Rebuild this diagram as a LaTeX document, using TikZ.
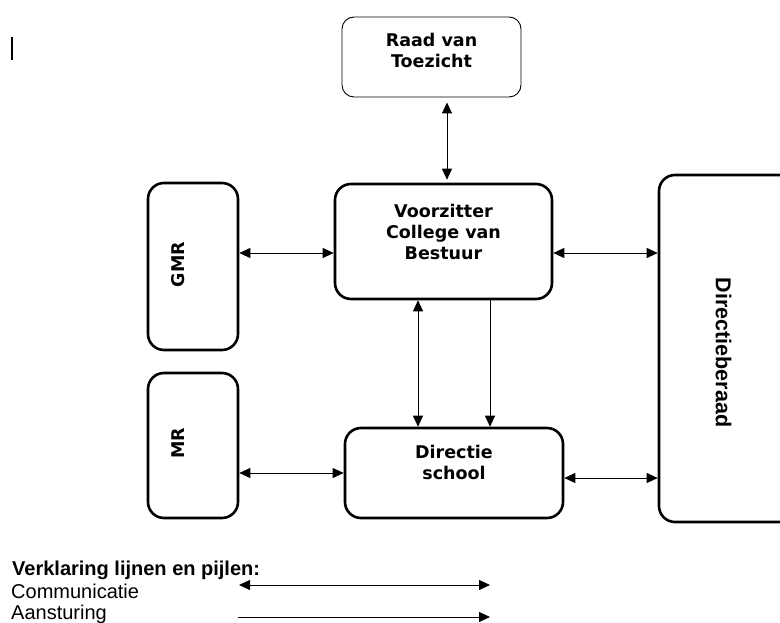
\documentclass[tikz,border=0pt]{standalone}
\usepackage{fontspec}
\setmainfont{Liberation Sans}
\newfontfamily\boxfont{DejaVu Sans}
\usetikzlibrary{arrows.meta}
\tikzset{
	orgbox/.style={draw, line width=2.6pt, rounded corners=16pt, inner sep=0pt},
	thinbox/.style={draw, line width=0.9pt, rounded corners=12pt, inner sep=0pt},
	boxlabel/.style={font=\boxfont\bfseries\fontsize{17.5}{21}\selectfont, align=center, inner sep=0pt},
	sidelabel/.style={font=\bfseries\fontsize{21.5}{24}\selectfont, inner sep=0pt},
	keylabel/.style={font=\fontsize{20}{23}\selectfont, anchor=base west, inner sep=0pt},
	comm/.style={line width=0.9pt, {Triangle[length=11pt,width=10pt]}-{Triangle[length=11pt,width=10pt]}},
	steer/.style={line width=0.9pt, -{Triangle[length=11pt,width=10pt]}},
}

\begin{document}
\begin{tikzpicture}[x=1pt, y=-1pt]
	\useasboundingbox (0, 0) rectangle (780, 623);
	% cursor mark
	\draw[line width=1.1pt] (12, 37) -- (12, 60);
	% box sizes
	\pgfmathsetmacro\bw{217}
	\pgfmathsetmacro\sw{90}
	% supervisory board
	\node[thinbox, minimum width=179pt, minimum height=80pt] (rvt) at (431.5, 57) {};
	\node[boxlabel] (rvt-label) at ([yshift=7pt]rvt.center) {Raad van\\Toezicht};
	% chair
	\node[orgbox, minimum width=\bw pt, minimum height=115pt] (vcb) at (443.5, 241.5) {};
	\node[boxlabel] (vcb-label) at ([yshift=9.5pt]vcb.center) {Voorzitter\\College van\\Bestuur};
	% school management
	\node[orgbox, minimum width=218pt, minimum height=90pt] (ds) at (454, 473) {};
	\node[boxlabel] (ds-label) at ([yshift=11pt]ds.center) {Directie\\school};
	% councils
	\node[orgbox, minimum width=\sw pt, minimum height=167pt] (gmr) at (193, 266.5) {};
	\node[boxlabel, rotate=90] (gmr-label) at ([xshift=-15pt, yshift=2pt]gmr.center) {GMR};
	\node[orgbox, minimum width=\sw pt, minimum height=145pt] (mr) at (193, 445.5) {};
	\node[boxlabel, rotate=90] (mr-label) at ([xshift=-14.5pt, yshift=2.5pt]mr.center) {MR};
	% directors board
	\node[orgbox, minimum width=140pt, minimum height=347pt] (dbr) at (729, 348.5) {};
	\node[sidelabel, rotate=-90] (dbr-label) at ([xshift=-5.5pt, yshift=-4pt]dbr.center) {Directieberaad};
	% connector lines
	\coordinate (xtop) at (447, 0);
	\coordinate (ytop) at (0, 253);
	\coordinate (xup) at (418, 0);
	\coordinate (xdown) at (490, 0);
	\coordinate (ymr) at (0, 473);
	\coordinate (ydbr) at (0, 478);
	\draw[comm, shorten <=5pt, shorten >=3pt] (rvt.south -| xtop) -- (vcb.north -| xtop);
	\draw[comm] (gmr.east |- ytop) -- (vcb.west |- ytop);
	\draw[comm] (vcb.east |- ytop) -- (dbr.west |- ytop);
	\draw[comm] (vcb.south -| xup) -- (ds.north -| xup);
	\draw[steer] (vcb.south -| xdown) -- (ds.north -| xdown);
	\draw[comm] (mr.east |- ymr) -- (ds.west |- ymr);
	\draw[comm] (ds.east |- ydbr) -- (dbr.west |- ydbr);
	% legend
	\node[keylabel, font=\bfseries\fontsize{20}{23}\selectfont] (key) at (12, 575) {Verklaring lijnen en pijlen:};
	\node[keylabel] (key-comm) at (11, 598.5) {Communicatie};
	\node[keylabel] (key-steer) at (11, 619) {Aansturing};
	\coordinate (comm-a) at (239, 585);
	\coordinate (comm-b) at (490, 585);
	\coordinate (steer-a) at (238, 617);
	\coordinate (steer-b) at (490, 617);
	\draw[comm] (comm-a) -- (comm-b);
	\draw[steer] (steer-a) -- (steer-b);
\end{tikzpicture}
\end{document}
